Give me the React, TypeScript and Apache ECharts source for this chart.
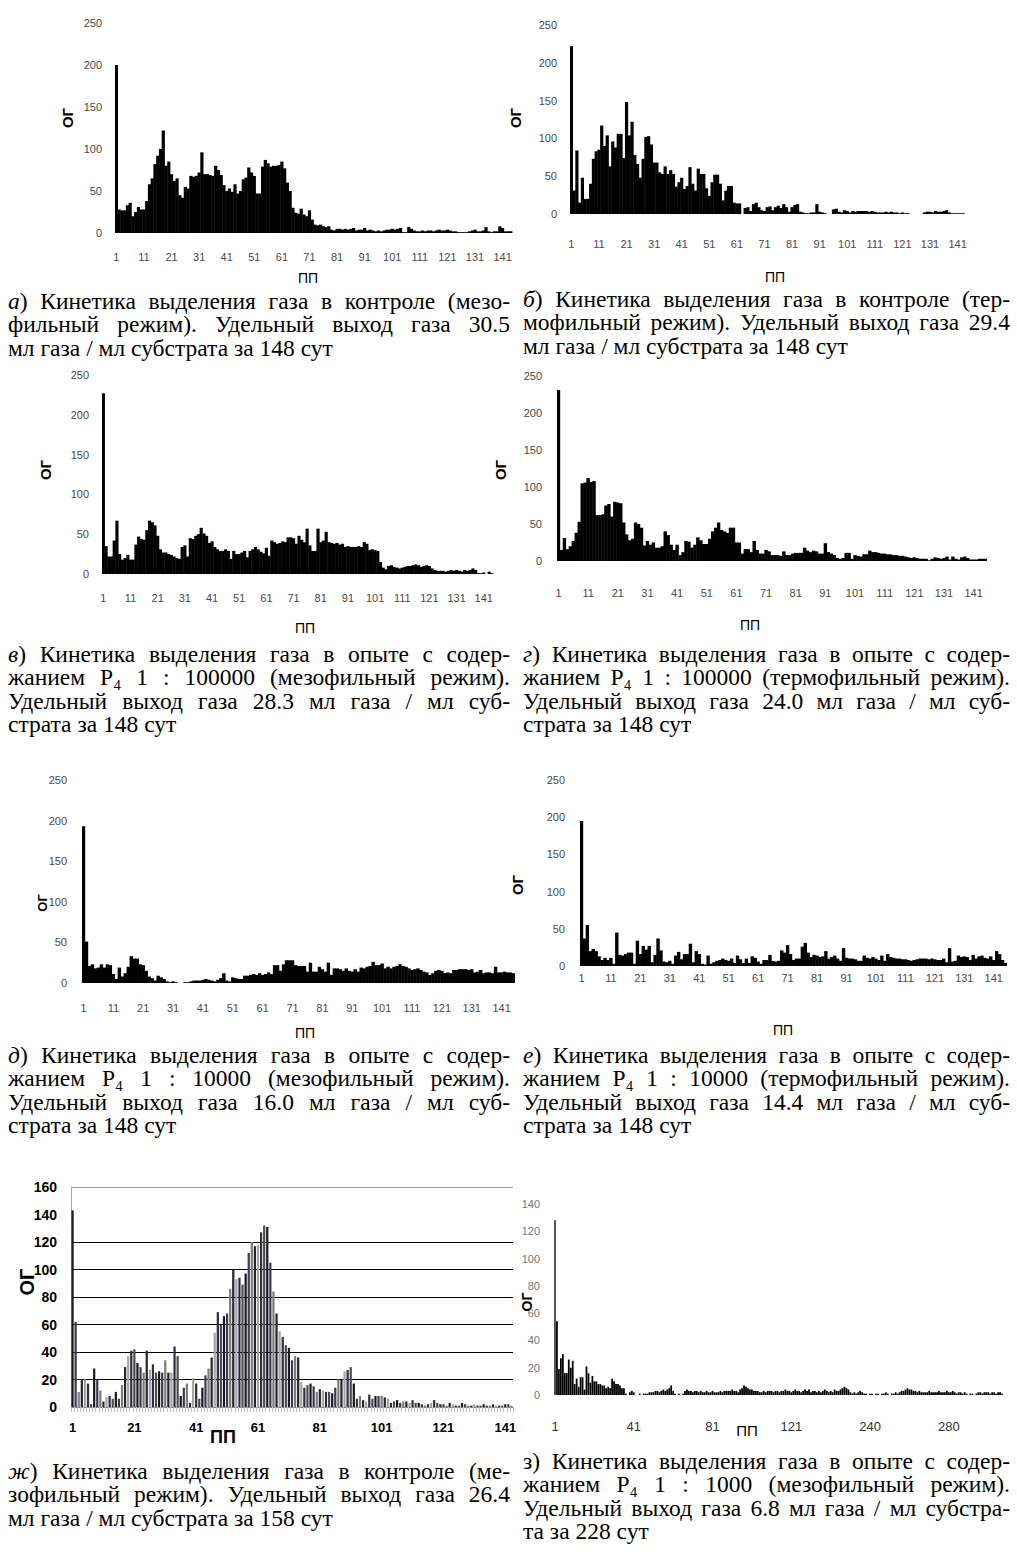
import React, { useEffect, useRef } from "react";
import * as echarts from "echarts";

// ---------- categories / tick labels ----------
const days145 = Array.from({ length: 145 }, (_, i) => String(i + 1));
const days143 = Array.from({ length: 143 }, (_, i) => String(i + 1));
const daysZ = Array.from({ length: 121 }, (_, i) => String(i + 1)).concat(
  Array.from({ length: 107 }, (_, i) => String(i + 201))
);

// ---------- series values (ОГ) ----------
const ogA = [200, 28, 27, 27, 33, 36, 20, 25, 31, 28, 28, 38, 58, 65, 82, 92, 100, 122, 80, 85,
  70, 62, 65, 45, 42, 55, 53, 68, 67, 68, 72, 96, 70, 70, 69, 68, 80, 75, 69, 57,
  50, 53, 49, 58, 47, 50, 64, 66, 78, 72, 68, 47, 47, 79, 87, 83, 79, 80, 80, 81,
  85, 77, 60, 50, 30, 24, 23, 29, 22, 20, 27, 16, 10, 9, 10, 8, 7, 8, 4, 3,
  5, 5, 4, 5, 4, 5, 6, 3, 4, 4, 6, 3, 4, 3, 2, 3, 2, 3, 4, 4,
  5, 4, 5, 6, 1, 1, 7, 5, 3, 2, 2, 3, 2, 3, 3, 2, 3, 4, 3, 3,
  4, 3, 2, 2, 1, 1, 1, 1, 2, 3, 4, 2, 2, 3, 7, 2, 1, 2, 2, 8, 6, 2, 2, 2, 0];
const ogB = [222, 31, 84, 15, 48, 20, 20, 40, 73, 83, 85, 117, 90, 104, 63, 96, 88, 106, 106, 74,
  148, 104, 122, 78, 66, 48, 73, 102, 103, 92, 68, 68, 55, 53, 63, 53, 58, 53, 36, 42,
  48, 33, 37, 62, 40, 31, 60, 53, 53, 34, 24, 42, 52, 52, 40, 18, 31, 37, 37, 15,
  14, 14, 0, 8, 9, 4, 13, 15, 9, 5, 4, 9, 10, 5, 9, 11, 8, 13, 9, 3,
  9, 12, 13, 3, 2, 1, 1, 2, 2, 13, 3, 2, 1, 0, 0, 6, 7, 3, 2, 5,
  4, 2, 4, 3, 4, 4, 4, 4, 3, 4, 3, 2, 2, 2, 3, 2, 3, 2, 2, 1,
  2, 1, 1, 0, 0, 0, 0, 0, 2, 3, 3, 2, 4, 3, 3, 4, 5, 2, 1, 1, 1, 1, 1, 0, 0];
const ogV = [227, 35, 22, 22, 42, 67, 25, 18, 20, 24, 18, 18, 37, 47, 44, 43, 55, 67, 65, 61,
  48, 31, 27, 27, 25, 24, 22, 20, 19, 34, 36, 22, 45, 44, 48, 50, 58, 51, 48, 39,
  41, 34, 31, 29, 29, 31, 29, 19, 29, 25, 25, 27, 29, 21, 29, 31, 34, 31, 28, 26,
  33, 23, 42, 40, 38, 39, 41, 40, 46, 46, 45, 38, 48, 43, 40, 57, 36, 29, 29, 57,
  40, 42, 53, 40, 39, 38, 39, 37, 38, 34, 35, 34, 34, 34, 35, 34, 40, 38, 30, 31,
  30, 29, 15, 8, 6, 10, 11, 9, 8, 7, 8, 9, 10, 10, 11, 12, 11, 9, 10, 11,
  10, 7, 5, 4, 4, 4, 3, 4, 5, 4, 5, 4, 3, 5, 4, 5, 7, 5, 1, 1, 2, 0, 3, 1, 0];
const ogG = [231, 15, 31, 16, 20, 27, 38, 53, 105, 106, 112, 107, 108, 62, 62, 63, 75, 77, 60, 80,
  79, 78, 52, 36, 28, 30, 52, 50, 45, 21, 27, 22, 25, 18, 18, 20, 40, 35, 22, 15,
  22, 8, 12, 27, 26, 18, 22, 32, 28, 23, 23, 30, 40, 45, 52, 42, 40, 38, 45, 45,
  25, 25, 10, 16, 16, 12, 27, 15, 10, 10, 15, 13, 8, 8, 8, 7, 13, 8, 8, 10,
  11, 11, 11, 18, 14, 12, 14, 13, 10, 10, 24, 12, 10, 8, 4, 3, 4, 11, 11, 3,
  8, 7, 6, 9, 9, 14, 12, 12, 11, 10, 10, 9, 9, 8, 8, 7, 7, 6, 5, 4,
  5, 4, 3, 3, 3, 1, 3, 5, 4, 3, 4, 6, 2, 6, 3, 2, 5, 6, 4, 2, 2, 2, 3, 3, 3];
const ogD = [193, 51, 21, 23, 18, 19, 23, 19, 23, 22, 11, 5, 19, 8, 12, 20, 33, 30, 30, 23,
  22, 15, 8, 6, 3, 9, 7, 5, 2, 1, 2, 1, 0, 0, 1, 1, 2, 3, 3, 3,
  4, 5, 4, 3, 2, 4, 6, 12, 3, 2, 7, 6, 5, 5, 9, 9, 10, 11, 10, 12,
  10, 11, 13, 11, 22, 22, 15, 23, 28, 28, 28, 22, 21, 21, 21, 14, 25, 14, 14, 20,
  17, 14, 25, 10, 18, 18, 17, 15, 18, 15, 14, 17, 14, 19, 18, 20, 21, 26, 22, 22,
  24, 18, 20, 18, 20, 21, 23, 21, 20, 18, 16, 17, 18, 16, 14, 13, 10, 12, 15, 16,
  15, 12, 13, 12, 16, 16, 17, 17, 17, 16, 17, 13, 14, 16, 12, 13, 13, 12, 20, 13, 13, 14, 13, 13, 12];
const ogE = [195, 37, 55, 20, 23, 20, 13, 8, 11, 8, 11, 3, 45, 15, 14, 16, 18, 18, 3, 34,
  16, 27, 22, 27, 5, 15, 37, 21, 6, 5, 7, 3, 14, 19, 9, 16, 16, 30, 5, 20,
  16, 3, 2, 14, 3, 5, 7, 8, 10, 8, 7, 10, 4, 14, 9, 4, 10, 4, 13, 11,
  6, 3, 8, 8, 15, 7, 6, 7, 21, 18, 28, 16, 8, 10, 10, 26, 31, 18, 12, 15,
  14, 12, 13, 20, 10, 12, 14, 10, 7, 24, 11, 10, 10, 9, 7, 7, 14, 11, 10, 12,
  10, 8, 14, 7, 16, 12, 11, 10, 10, 9, 9, 8, 7, 8, 9, 10, 10, 10, 9, 10,
  9, 8, 8, 10, 5, 24, 6, 7, 14, 12, 13, 12, 8, 15, 10, 13, 14, 11, 10, 13, 8, 20, 16, 8, 4];
const ogZh = [143, 62, 11, 20, 20, 17, 2, 28, 20, 12, 4, 7, 8, 6, 11, 6, 16, 29, 37, 41,
  42, 32, 29, 25, 41, 27, 31, 25, 26, 25, 34, 25, 25, 44, 37, 8, 14, 17, 3, 21,
  17, 6, 14, 23, 28, 36, 54, 69, 60, 66, 68, 86, 100, 93, 94, 89, 97, 112, 120, 117,
  118, 127, 132, 131, 105, 84, 68, 55, 51, 45, 43, 34, 37, 36, 18, 14, 16, 17, 15, 11,
  13, 12, 11, 11, 10, 14, 20, 20, 26, 27, 29, 17, 6, 8, 5, 4, 9, 6, 8, 8,
  8, 7, 6, 3, 4, 5, 3, 4, 4, 3, 5, 3, 3, 2, 1, 2, 3, 5, 3, 2,
  2, 1, 3, 2, 1, 1, 3, 2, 1, 1, 2, 1, 1, 2, 1, 1, 2, 1, 1, 1, 2, 2, 1];
const ogZ = [128, 54, 19, 27, 30, 16, 16, 26, 20, 25, 8, 12, 6, 13, 13, 4, 21, 16, 9, 14,
  10, 10, 8, 8, 7, 7, 5, 6, 5, 12, 10, 8, 8, 7, 5,
  5, 1, 0, 2, 3, 2, 0, 0, 1, 0, 1, 1, 1, 2, 2, 2, 3, 3, 2, 3,
  4, 3, 4, 5, 7, 3, 1, 0, 1, 0, 1, 3, 4, 3, 3, 2, 3, 3, 2, 3,
  2, 2, 3, 2, 2, 3, 2, 2, 2, 3, 2, 3, 3, 3, 3, 4, 3, 3, 2, 4,
  5, 7, 6, 5, 4, 4, 3, 3, 3, 2, 2, 3, 2, 3, 3, 3, 2, 3, 3, 2,
  3, 3, 4, 3, 3, 2, 3, 4, 3, 3, 2, 3, 4, 3, 4, 2, 3, 3, 2, 3,
  2, 3, 4, 3, 2, 3, 2, 4, 3, 3, 4, 5, 6, 5, 4, 2, 1, 2, 1, 2,
  3, 2, 1, 1, 0, 1, 1, 0, 1, 1, 0, 1, 1, 2, 1, 0, 1, 1, 2, 1,
  2, 3, 3, 4, 5, 4, 4, 3, 3, 2, 3, 2, 2, 2, 2, 3, 2, 2, 2, 2,
  3, 2, 2, 2, 3, 2, 2, 3, 2, 1, 2, 2, 1, 2, 1, 0, 1, 1, 0, 1,
  2, 2, 1, 2, 2, 2, 1, 2, 2, 1, 2, 2, 1];

const SANS = "Liberation Sans";
const SERIF = '"Liberation Serif", "Times New Roman", serif';

type Panel = {
  grid: { left: number; top: number; width: number; height: number };
  cats: string[];
  data: number[];
  max: number;
  xMargin: number;
  yMargin: number;
};

const smallPanels: Panel[] = [
  { grid: { left: 115, top: 23, width: 400, height: 210 }, cats: days145, data: ogA, max: 250, xMargin: 18, yMargin: 13 },
  { grid: { left: 570, top: 25, width: 400, height: 189 }, cats: days145, data: ogB, max: 250, xMargin: 24, yMargin: 13 },
  { grid: { left: 102, top: 375, width: 394, height: 199 }, cats: days145, data: ogV, max: 250, xMargin: 18, yMargin: 13 },
  { grid: { left: 557, top: 376, width: 430, height: 185 }, cats: days145, data: ogG, max: 250, xMargin: 26, yMargin: 15 },
  { grid: { left: 82, top: 780, width: 433, height: 203 }, cats: days145, data: ogD, max: 250, xMargin: 19, yMargin: 15 },
  { grid: { left: 580, top: 780, width: 427, height: 186 }, cats: days145, data: ogE, max: 250, xMargin: 6, yMargin: 15 },
];

const zhPalette = ["#1a1a1a", "#3a3a52", "#7c7c7c", "#262626", "#a6a6a6", "#2e2e44", "#4d4d4d"];

function buildOption() {
  const grid: any[] = [];
  const xAxis: any[] = [];
  const yAxis: any[] = [];
  const series: any[] = [];
  const lblStyle = { fontFamily: SANS, fontSize: 11, color: "#4a4a4a" };

  smallPanels.forEach((p, i) => {
    grid.push({ ...p.grid });
    xAxis.push({
      type: "category", gridIndex: i, data: p.cats,
      axisLine: { show: false }, axisTick: { show: false },
      axisLabel: { ...lblStyle, interval: 9, margin: p.xMargin },
    });
    yAxis.push({
      type: "value", gridIndex: i, min: 0, max: p.max, interval: 50,
      axisLine: { show: false }, axisTick: { show: false }, splitLine: { show: false },
      axisLabel: { ...lblStyle, margin: p.yMargin },
    });
    series.push({
      type: "bar", xAxisIndex: i, yAxisIndex: i, data: p.data,
      barWidth: p.grid.width / p.cats.length + 0.45, itemStyle: { color: "#000" },
    });
  });

  // ж
  grid.push({ left: 71, top: 1187, width: 442, height: 220 });
  xAxis.push({
    type: "category", gridIndex: 6, data: days143,
    axisLine: { show: true, lineStyle: { color: "#808080" } },
    axisTick: { show: true, interval: 0, length: 5, lineStyle: { color: "#bdbdbd" } },
    axisLabel: { interval: 19, fontFamily: SANS, fontSize: 13, fontWeight: "bold", color: "#000", margin: 14 },
  });
  yAxis.push({
    type: "value", gridIndex: 6, min: 0, max: 160, interval: 20,
    axisLine: { show: true, lineStyle: { color: "#a8a8a8" } }, axisTick: { show: false },
    splitLine: { show: true, lineStyle: { color: ["#000", "#000", "#000", "#000", "#000", "#000", "#000", "rgba(0,0,0,0)", "#9a9a9a"], width: 1 } },
    axisLabel: { fontFamily: SANS, fontSize: 14, fontWeight: "bold", color: "#000", margin: 14 },
  });
  series.push({
    type: "bar", xAxisIndex: 6, yAxisIndex: 6, data: ogZh, barCategoryGap: "28%",
    itemStyle: { color: (pp: any) => zhPalette[pp.dataIndex % zhPalette.length] },
  });

  // з
  grid.push({ left: 554, top: 1204, width: 449, height: 191 });
  xAxis.push({
    type: "category", gridIndex: 7, data: daysZ,
    axisLine: { show: false }, axisTick: { show: false },
    axisLabel: { interval: 39, fontFamily: SANS, fontSize: 13, color: "#333", margin: 25 },
  });
  yAxis.push({
    type: "value", gridIndex: 7, min: 0, max: 140, interval: 20,
    axisLine: { show: false }, axisTick: { show: false }, splitLine: { show: false },
    axisLabel: { fontFamily: SANS, fontSize: 11, color: "#777", margin: 14 },
  });
  series.push({
    type: "bar", xAxisIndex: 7, yAxisIndex: 7, data: ogZ, barCategoryGap: "10%",
    itemStyle: { color: (pp: any) => (pp.dataIndex === 0 ? "#3c3c3c" : "#000") },
  });

  const yT = (x: number, y: number, font: string) => ({
    type: "text", x, y, rotation: Math.PI / 2, silent: true,
    style: { text: "ОГ", font, fill: "#000", textAlign: "center", textVerticalAlign: "middle" },
  });
  const xT = (x: number, y: number, font: string) => ({
    type: "text", x, y, silent: true,
    style: { text: "ПП", font, fill: "#000", textAlign: "center", textVerticalAlign: "middle" },
  });
  const f1 = `bold 15px "${SANS}"`;
  const f2 = `14px "${SANS}"`;
  const graphic = [
    yT(67, 118, f1), yT(515, 118, f1), yT(45, 470, f1), yT(500, 470, f1),
    yT(42, 903, `bold 13px "${SANS}"`), yT(517, 885, f1), yT(27, 1282, `bold 20px "${SANS}"`), yT(527, 1302, `bold 14px "${SANS}"`),
    xT(308, 278, f2), xT(775, 277, f2), xT(305, 628, f2), xT(750, 625, f2),
    xT(305, 1033, f2), xT(783, 1030, f2), xT(223, 1437, `bold 18px "${SANS}"`), xT(747, 1430, `15px "${SANS}"`),
  ];

  return { animation: false, grid, xAxis, yAxis, series, graphic };
}

const It = ({ c }: { c: string }) => <i>{c}</i>;

type Cap = { left: number; top: number; width: number; lines: React.ReactNode[] };

const captions: Cap[] = [
  { left: 8, top: 290, width: 502, lines: [
    <><It c="а" />) Кинетика выделения газа в контроле (мезо-</>,
    <>фильный режим). Удельный выход газа 30.5</>,
    <>мл газа / мл субстрата за 148 сут</>,
  ] },
  { left: 523, top: 288, width: 487, lines: [
    <><It c="б" />) Кинетика выделения газа в контроле (тер-</>,
    <>мофильный режим). Удельный выход газа 29.4</>,
    <>мл газа / мл субстрата за 148 сут</>,
  ] },
  { left: 8, top: 643, width: 502, lines: [
    <><It c="в" />) Кинетика выделения газа в опыте с содер-</>,
    <>жанием P₄ 1 : 100000 (мезофильный режим).</>,
    <>Удельный выход газа 28.3 мл газа / мл суб-</>,
    <>страта за 148 сут</>,
  ] },
  { left: 523, top: 643, width: 487, lines: [
    <><It c="г" />) Кинетика выделения газа в опыте с содер-</>,
    <>жанием P₄ 1 : 100000 (термофильный режим).</>,
    <>Удельный выход газа 24.0 мл газа / мл суб-</>,
    <>страта за 148 сут</>,
  ] },
  { left: 8, top: 1044, width: 502, lines: [
    <><It c="д" />) Кинетика выделения газа в опыте с содер-</>,
    <>жанием P₄ 1 : 10000 (мезофильный режим).</>,
    <>Удельный выход газа 16.0 мл газа / мл суб-</>,
    <>страта за 148 сут</>,
  ] },
  { left: 523, top: 1044, width: 487, lines: [
    <><It c="е" />) Кинетика выделения газа в опыте с содер-</>,
    <>жанием P₄ 1 : 10000 (термофильный режим).</>,
    <>Удельный выход газа 14.4 мл газа / мл суб-</>,
    <>страта за 148 сут</>,
  ] },
  { left: 8, top: 1460, width: 502, lines: [
    <><It c="ж" />) Кинетика выделения газа в контроле (ме-</>,
    <>зофильный режим). Удельный выход газа 26.4</>,
    <>мл газа / мл субстрата за 158 сут</>,
  ] },
  { left: 523, top: 1450, width: 487, lines: [
    <>з) Кинетика выделения газа в опыте с содер-</>,
    <>жанием P₄ 1 : 1000 (мезофильный режим).</>,
    <>Удельный выход газа 6.8 мл газа / мл субстра-</>,
    <>та за 228 сут</>,
  ] },
];

function Caption({ c }: { c: Cap }) {
  return (
    <div style={{ position: "absolute", left: c.left, top: c.top, width: c.width, fontFamily: SERIF, fontSize: 23.5, lineHeight: "23.4px", color: "#000" }}>
      {c.lines.map((l, i) => {
        const last = i === c.lines.length - 1;
        return (
          <div key={i} style={{ textAlign: last ? "left" : "justify", textAlignLast: last ? "left" : "justify", whiteSpace: "nowrap" } as any}>
            {l}
          </div>
        );
      })}
    </div>
  );
}

export default function App() {
  const ref = useRef<HTMLDivElement>(null);
  useEffect(() => {
    if (!ref.current) return;
    const chart = echarts.init(ref.current, undefined, { renderer: "svg" });
    chart.setOption(buildOption() as any);
    return () => chart.dispose();
  }, []);
  return (
    <div style={{ position: "absolute", left: 0, top: 0, width: 1017, height: 1562, background: "#fff", overflow: "hidden" }}>
      <div ref={ref} style={{ position: "absolute", left: 0, top: 0, width: 1017, height: 1562 }} />
      {captions.map((c, i) => <Caption key={i} c={c} />)}
    </div>
  );
}
